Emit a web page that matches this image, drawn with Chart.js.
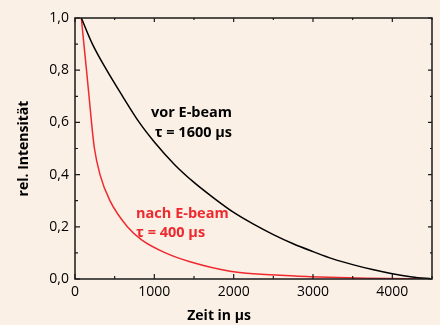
<!DOCTYPE html>
<html>
<head>
<meta charset="utf-8">
<script src="https://cdn.jsdelivr.net/npm/chart.js@4"></script>
<style>
  html, body { margin:0; padding:0; background:#fbf0e6; }
  #wrap { width:440px; height:325px; }
</style>
</head>
<body>
<div id="wrap"><canvas id="chart" width="440" height="325"></canvas></div>
<script>
// values
const timeBlack = [80, 220, 400, 600, 810, 1000, 1250, 1500, 1750, 2000, 2250, 2500, 2750, 3000, 3250, 3500, 3750, 4000, 4250, 4500];
const vorEbeam  = [1.0, 0.9, 0.8, 0.7, 0.6, 0.525, 0.44, 0.37, 0.31, 0.255, 0.21, 0.17, 0.135, 0.105, 0.077, 0.055, 0.036, 0.02, 0.008, 0.0];

const timeRed   = [80, 112, 145, 177, 208, 245, 315, 440, 660, 840, 1140, 1450, 1955, 2585, 2960, 3680, 4500];
const nachEbeam = [1.0, 0.9, 0.8, 0.7, 0.6, 0.5, 0.4, 0.3, 0.2, 0.15, 0.1, 0.066, 0.03, 0.014, 0.009, 0.003, 0.0];

const xTicks = [0, 1000, 2000, 3000, 4000];
const yTicks = [0, 0.2, 0.4, 0.6, 0.8, 1.0];

const FONT = "'Open Sans', 'DejaVu Sans', sans-serif";
const RED = "#ee2a2f";

const pts = (xs, ys) => xs.map((x, i) => ({ x, y: ys[i] }));
const fmt = v => v.toFixed(1).replace(".", ",");

// frame, inward ticks, axis titles and curve labels
const decor = {
  id: "decor",
  afterDraw(c) {
    const { ctx, chartArea: a, scales: { x, y } } = c;
    ctx.save();
    ctx.strokeStyle = "#1a1a1a";
    ctx.lineWidth = 1.5;
    ctx.strokeRect(a.left, a.top, a.right - a.left, a.bottom - a.top);

    ctx.lineWidth = 1.2;
    ctx.beginPath();
    x.ticks.forEach(t => {
      const px = x.getPixelForValue(t.value);
      const len = xTicks.includes(t.value) ? 5 : 3;
      ctx.moveTo(px, a.bottom); ctx.lineTo(px, a.bottom - len);
      ctx.moveTo(px, a.top);    ctx.lineTo(px, a.top + len - 1);
    });
    y.ticks.forEach(t => {
      const py = y.getPixelForValue(t.value);
      const major = yTicks.some(v => Math.abs(v - t.value) < 1e-6);
      const len = major ? 5 : 3;
      ctx.moveTo(a.left, py);  ctx.lineTo(a.left + len, py);
      ctx.moveTo(a.right, py); ctx.lineTo(a.right - len + 1, py);
    });
    ctx.stroke();

    ctx.fillStyle = "#000";
    ctx.font = "bold 14px " + FONT;
    ctx.textAlign = "center";
    ctx.textBaseline = "middle";
    ctx.fillText("Zeit in µs", x.getPixelForValue(1816), a.bottom + 37);

    ctx.save();
    ctx.translate(24, (a.top + a.bottom) / 2);
    ctx.rotate(-Math.PI / 2);
    ctx.fillText("rel. Intensität", 0, 0);
    ctx.restore();

    ctx.font = "bold 14.5px " + FONT;
    ctx.textAlign = "right";
    ctx.fillText("vor E-beam", x.getPixelForValue(1980), y.getPixelForValue(0.637));
    ctx.fillText("τ = 1600 µs", x.getPixelForValue(1980), y.getPixelForValue(0.56));

    ctx.fillStyle = RED;
    ctx.textAlign = "left";
    ctx.fillText("nach E-beam", x.getPixelForValue(770), y.getPixelForValue(0.25));
    ctx.fillText("τ = 400 µs", x.getPixelForValue(770), y.getPixelForValue(0.178));
    ctx.restore();
  }
};

new Chart(document.getElementById("chart"), {
  type: "line",
  data: {
    datasets: [
      { label: "vor E-beam", data: pts(timeBlack, vorEbeam), borderColor: "#000", borderWidth: 1.5,
        pointRadius: 0, cubicInterpolationMode: "monotone", fill: false },
      { label: "nach E-beam", data: pts(timeRed, nachEbeam), borderColor: RED, borderWidth: 1.5,
        pointRadius: 0, cubicInterpolationMode: "monotone", fill: false }
    ]
  },
  options: {
    responsive: false,
    animation: false,
    layout: { padding: { top: 18, right: 8, left: 0, bottom: 0 } },
    plugins: { legend: { display: false }, tooltip: { enabled: false } },
    scales: {
      x: {
        type: "linear", min: 0, max: 4500,
        grid: { display: false, drawTicks: false },
        border: { display: false },
        ticks: {
          stepSize: 500, padding: 5, maxRotation: 0, autoSkip: false,
          color: "#000", font: { family: FONT, size: 14 },
          callback: v => xTicks.includes(v) ? String(v) : ""
        },
        afterFit: s => { s.height = 46; }
      },
      y: {
        min: 0, max: 1,
        grid: { display: false, drawTicks: false },
        border: { display: false },
        ticks: {
          stepSize: 0.1, padding: 6, autoSkip: false,
          color: "#000", font: { family: FONT, size: 14 },
          callback: v => yTicks.some(t => Math.abs(t - v) < 1e-6) ? fmt(v) : ""
        },
        afterFit: s => { s.width = 75; }
      }
    }
  },
  plugins: [decor]
});
</script>
</body>
</html>
